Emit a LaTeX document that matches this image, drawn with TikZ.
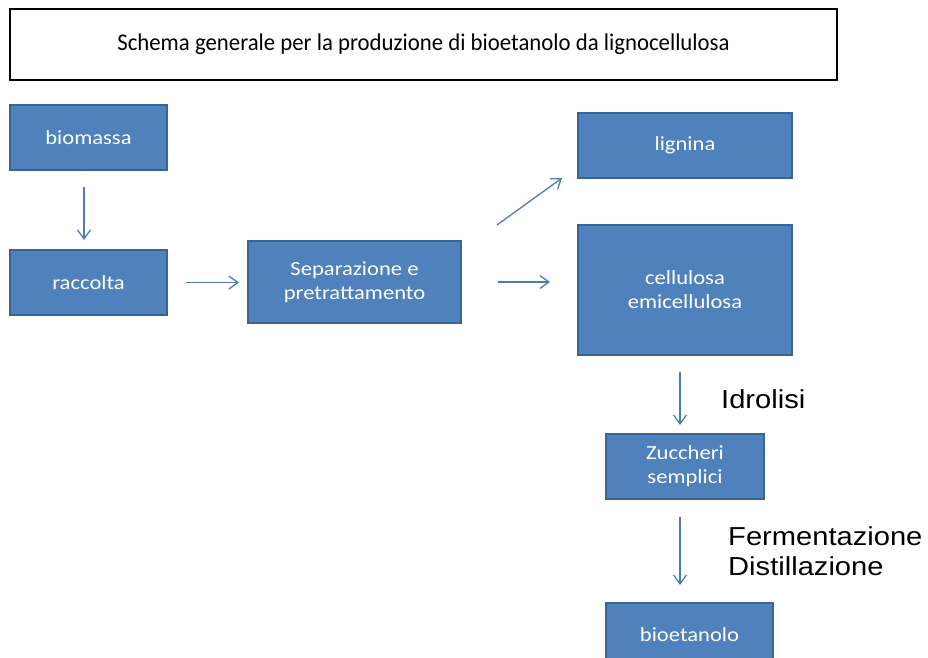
\documentclass[tikz,border=0pt]{standalone}
\usepackage{fontspec}
\setmainfont{Carlito}
\newfontfamily\boxfont{Carlito}[FakeStretch=1.13]
\newfontfamily\titlefont{Carlito}[FakeStretch=0.95]
\newfontfamily\arialfont{Liberation Sans}[FakeStretch=1.12]
\usetikzlibrary{arrows.meta}
\definecolor{boxfill}{HTML}{4F81BD}
\definecolor{boxline}{HTML}{3A6494}
\definecolor{arrcol}{HTML}{4A7EBB}
\tikzset{
  procbox/.style={draw=boxline, line width=2pt, fill=boxfill, text=white,
    font=\boxfont\fontsize{20}{24}\selectfont, align=center, inner sep=0pt},
  arr/.style={draw=arrcol, line width=1.3pt, -{Straight Barb[length=9pt,width=13pt]}},
  steplabel/.style={font=\arialfont\fontsize{26}{30}\selectfont, align=left, inner sep=0pt, text=black}
}
\begin{document}
\begin{tikzpicture}[x=1pt,y=-1pt]
\fill[white] (0,0) rectangle (928,657);
\useasboundingbox (0,0) rectangle (928,657);
\node[draw=black, line width=2.4pt, minimum width=827pt, minimum height=71pt, inner sep=0pt,
  font=\titlefont\fontsize{24}{28}\selectfont] (title) at (423.5,44.5)
  {Schema generale per la produzione di bioetanolo da lignocellulosa};
\node[procbox, minimum width=157pt, minimum height=65pt] (biom) at (88.5,137.5) {biomassa};
\node[procbox, minimum width=157pt, minimum height=65pt] (racc) at (88.5,282.5) {raccolta};
\node[procbox, minimum width=213pt, minimum height=82pt] (sep) at (354.5,282) {Separazione e\\pretrattamento};
\node[procbox, minimum width=214pt, minimum height=65pt] (lig) at (685,145.5) {lignina};
\node[procbox, minimum width=214pt, minimum height=130pt] (cell) at (685,290) {cellulosa\\emicellulosa};
\node[procbox, minimum width=158pt, minimum height=65pt] (zuc) at (685,466.5) {Zuccheri\\semplici};
\node[procbox, minimum width=167pt, minimum height=64pt] (bio) at (689.5,635) {bioetanolo};
\node[steplabel, anchor=base west] (idro) at (721,408) {Idrolisi};
\node[steplabel, anchor=north west] (ferm) at (728,526) {Fermentazione\\Distillazione};
\coordinate (d1) at (497,225);
\coordinate (d2) at (562,178);
\draw[arr, shorten <=16pt, shorten >=9pt] ([xshift=-4.5pt]biom.south) -- ([xshift=-4.5pt]racc.north);
\draw[arr, shorten <=18pt, shorten >=8pt] (racc.east) -- (racc.east -| sep.west);
\draw[arr] (d1) -- (d2);
\draw[arr, shorten <=36pt, shorten >=27pt] (sep.east) -- (sep.east -| cell.west);
\draw[arr, shorten <=16pt, shorten >=8pt] ([xshift=-5pt]cell.south) -- ([xshift=-5pt]zuc.north);
\draw[arr, shorten <=17pt, shorten >=17pt] ([xshift=-5pt]zuc.south) -- ([xshift=-9.5pt]bio.north);
\end{tikzpicture}
\end{document}
